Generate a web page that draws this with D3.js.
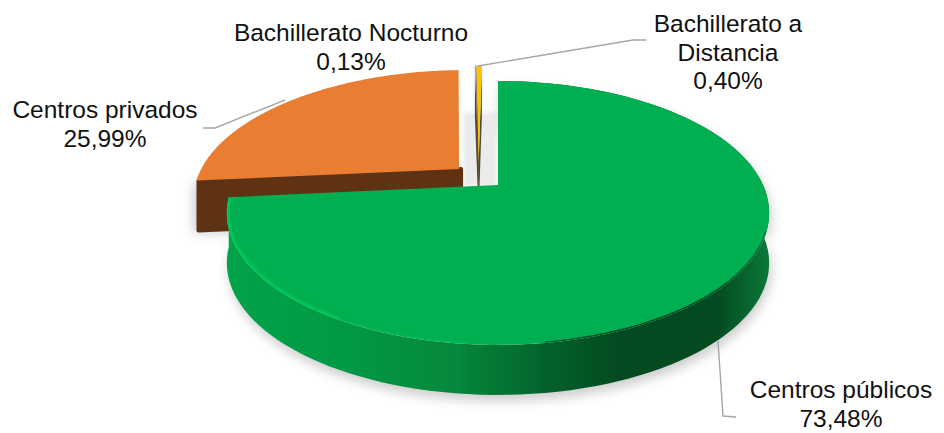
<!DOCTYPE html>
<html><head><meta charset="utf-8">
<script src="https://cdn.jsdelivr.net/npm/d3@7"></script>
<style>html,body{margin:0;background:#fff}svg{display:block}text{font-family:"Liberation Sans",Arial,sans-serif;font-size:24.5px;fill:#111}</style>
</head><body><svg id="c" width="944" height="433"></svg>
<script>
const categories = ["Centros públicos","Centros privados","Bachillerato Nocturno","Bachillerato a Distancia"];
const values = [73.48,25.99,0.13,0.40];
const valueLabels = ["73,48%","25,99%","0,13%","0,40%"];
const topColors = ["#00AF50","#E97E32","#A5A5A5","#FFC000"];
const wallColors = ["#05602c","#5F3214","#4a4a4a","#6e5300"];
// slice displacement on the disc plane (disc units)
const offsetX = [0,-0.151,-0.076,-0.076];
const offsetY = [0,-0.131,-0.186,-0.186];

const W=944,H=433,cx=498,cy=185,Rx=265,Ry=126,k=0.212,depth=50;
const svg=d3.select("#c");
const defs=svg.append("defs");
const blur=(id,s)=>defs.append("filter").attr("id",id).attr("x","-20%").attr("y","-20%").attr("width","140%").attr("height","140%").append("feGaussianBlur").attr("stdDeviation",s);
blur("b6",6);blur("b2",2);blur("b1",1);blur("b05",0.6);
const g=defs.append("linearGradient").attr("id","wall").attr("gradientUnits","userSpaceOnUse").attr("x1",231).attr("x2",771).attr("y1",0).attr("y2",0);
[[0,"#00a24a"],[0.2,"#019a45"],[0.42,"#05873c"],[0.58,"#04622c"],[0.72,"#034a20"],[0.9,"#044a21"],[1,"#0a7a3a"]].forEach(d=>g.append("stop").attr("offset",d[0]).attr("stop-color",d[1]));

const arcs=d3.pie().sort(null).value(d=>d)(values);
function P(x,y,z=0){const f=1/(1-k*y);return [cx+Rx*x*f,cy+Ry*y*f+z];}
function pt(i,t,r=1,z=0){return P(offsetX[i]+r*Math.sin(t),offsetY[i]-r*Math.cos(t),z);}
const line=d3.line();
const arcPts=(i,a,z=0)=>d3.range(0,121).map(j=>pt(i,a.startAngle+(a.endAngle-a.startAngle)*j/120,1,z));
const topPath=i=>{const a=arcs[i];return line([pt(i,0,0),...arcPts(i,a)])+"Z";};
const outerWall=i=>{const a=arcs[i];return line([...arcPts(i,a),...arcPts(i,a,depth).reverse()])+"Z";};
const cutWall=(i,t)=>line([pt(i,t,0),pt(i,t,1),pt(i,t,1,depth),pt(i,t,0,depth)])+"Z";

const shadow=svg.append("g").attr("filter","url(#b6)").attr("fill","#000").attr("opacity",0.2);
shadow.append("path").attr("d",outerWall(0)).attr("transform","translate(2,6)");
shadow.append("path").attr("d",cutWall(1,arcs[1].startAngle)).attr("transform","translate(-3,3)");
svg.append("rect").attr("x",463).attr("y",112).attr("width",34).attr("height",74).attr("fill","#d8d8d8").attr("opacity",0.5).attr("filter","url(#b2)");

// small slices, then private centres, then public centres
[2,3].forEach(i=>{
  svg.append("path").attr("d",cutWall(i,arcs[i].startAngle)).attr("fill",wallColors[i]);
  svg.append("path").attr("d",cutWall(i,arcs[i].endAngle)).attr("fill",wallColors[2]);
  svg.append("path").attr("d",topPath(i)).attr("fill",topColors[i]);
});
svg.append("path").attr("d",cutWall(1,arcs[1].startAngle)).attr("fill",wallColors[1]).attr("stroke",wallColors[1]).attr("stroke-width",4).attr("stroke-linejoin","round").attr("transform","translate(2,0)");
svg.append("path").attr("d",topPath(1)).attr("fill",topColors[1]);

svg.append("path").attr("d",outerWall(0)).attr("fill","url(#wall)");
svg.append("path").attr("d",topPath(0)).attr("fill",topColors[0]);
const cp=defs.append("clipPath").attr("id","topClip");cp.append("path").attr("d",topPath(0));
const bevel=arcPts(0,arcs[0]);
const rim=svg.append("g").attr("clip-path","url(#topClip)");
rim.append("path").attr("d",line(bevel.filter(p=>p[0]<340&&p[1]>190))).attr("fill","none").attr("stroke","#00c95c").attr("stroke-width",5).attr("filter","url(#b1)");
rim.append("path").attr("d",line(bevel.filter(p=>p[0]<470&&p[1]>190))).attr("fill","none").attr("stroke","#00c95c").attr("stroke-width",3).attr("filter","url(#b1)").attr("opacity",0.45);
// soft seam between the top face and the dark wall
rim.append("path").attr("d",line(bevel.filter(p=>p[0]>540&&p[1]>230))).attr("fill","none").attr("stroke","url(#wall)").attr("stroke-width",3).attr("filter","url(#b05)");

// leader lines
const leaders=[[[718,341],[723,416],[736,417]],[[285,100],[215,128],[203,128]],[[478,66],[633,40],[646,40]]];
svg.append("g").selectAll("path").data(leaders).join("path").attr("d",d=>line(d)).attr("fill","none").attr("stroke","#a6a6a6").attr("stroke-width",1.4);

// labels
const labelLines=[[categories[0],valueLabels[0]],[categories[1],valueLabels[1]],[categories[2],valueLabels[2]],["Bachillerato a","Distancia",valueLabels[3]]];
const labelAnchor=[[841,398],[105,118],[351,41],[728,32]];
labelLines.forEach((ls,i)=>{
  const t=svg.append("text").attr("text-anchor","middle");
  ls.forEach((s,j)=>t.append("tspan").attr("x",labelAnchor[i][0]).attr("y",labelAnchor[i][1]+j*28.5).text(s));
});
</script></body></html>
